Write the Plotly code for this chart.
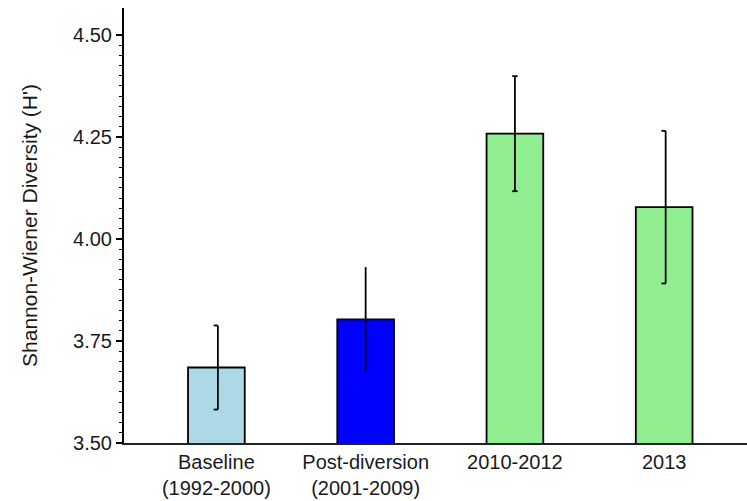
import plotly.graph_objects as go

# Shannon-Wiener diversity by period (mean and error half-width)
periods = ["Baseline<br>(1992-2000)", "Post-diversion<br>(2001-2009)", "2010-2012", "2013"]
diversity = [3.685, 3.803, 4.258, 4.078]
errors = [0.103, 0.128, 0.141, 0.187]
bar_colors = ["#ADD8E6", "#0000FF", "#90EE90", "#90EE90"]

# y-axis labels
y_ticks = [3.5, 3.75, 4.0, 4.25, 4.5]
y_ticktext = ["3.50", "3.75", "4.00", "4.25", "4.50"]

# cap extent on each side of the stem, in category units (left, right)
cap_left = [0.028, 0.0, 0.018, 0.028]
cap_right = [0.0, 0.0, 0.018, 0.0]
stem_shift = [0.01, 0.0, 0.0, 0.01]

x = list(range(len(periods)))
FONT = "Liberation Sans, Arial, sans-serif"

# minor ticks every 0.025 between the first and last labelled value
minor_vals = [round(y_ticks[0] + 0.025 * k, 3) for k in range(int(round((y_ticks[-1] - y_ticks[0]) / 0.025)) + 1)]

fig = go.Figure()
fig.add_trace(go.Bar(
    x=x, y=diversity, base=0,
    marker=dict(color=bar_colors, line=dict(color="black", width=1.8)),
    width=0.38, showlegend=False, hoverinfo="skip",
))

# error bars: vertical stem plus caps
ex, ey = [], []
for xi, m, e, cl, cr, s in zip(x, diversity, errors, cap_left, cap_right, stem_shift):
    xs = xi + s
    ex += [xs, xs, None]
    ey += [m - e, m + e, None]
    if cl or cr:
        for yy in (m - e, m + e):
            ex += [xs - cl, xs + cr, None]
            ey += [yy, yy, None]
fig.add_trace(go.Scatter(
    x=ex, y=ey, mode="lines", line=dict(color="black", width=1.8),
    showlegend=False, hoverinfo="skip",
))

fig.update_layout(
    width=747, height=501,
    margin=dict(l=124, r=0, t=8, b=58),
    paper_bgcolor="white", plot_bgcolor="white",
    font=dict(family=FONT, size=20, color="#1a1a1a"),
    xaxis=dict(
        range=[-0.619, 3.555], tickvals=x, ticktext=periods,
        showline=True, linecolor="#222", linewidth=2,
        ticks="", showgrid=False, zeroline=False,
        tickfont=dict(size=20),
    ),
    yaxis=dict(
        range=[3.5, 4.566], tickvals=y_ticks, ticktext=y_ticktext,
        showline=True, linecolor="black", linewidth=2,
        ticks="outside", ticklen=6, tickwidth=1.5, tickcolor="black",
        minor=dict(ticks="outside", ticklen=3, tickwidth=1.2, tickcolor="black",
                   tickvals=minor_vals),
        showgrid=False, zeroline=False,
        title=dict(text="Shannon-Wiener Diversity (H')", font=dict(size=21), standoff=30),
        tickfont=dict(size=20),
    ),
)

fig.write_html("out.html")
